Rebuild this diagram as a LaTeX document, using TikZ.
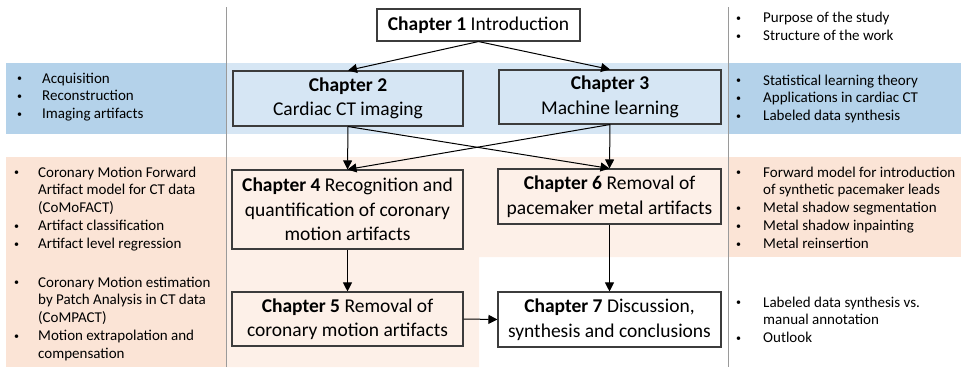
\documentclass[tikz,border=0pt]{standalone}
\usepackage{fontspec}
\setmainfont{Carlito}
\usetikzlibrary{arrows.meta}

\definecolor{bandblue}{HTML}{B4D2EA}
\definecolor{bandbluelt}{HTML}{D6E6F4}
\definecolor{bandpeach}{HTML}{FBE4D6}
\definecolor{bandpeachlt}{HTML}{FDF0E8}
\definecolor{boxline}{HTML}{3C3C3C}
\definecolor{divider}{HTML}{9A9A9A}

% bullet list: #1 = width of the bullet column, #2 = rows
\newcommand\sidelist[2]{\begin{tabular}{@{}p{#1}@{}l@{}}#2\end{tabular}}
\newcommand\itm{\raisebox{1.2pt}{\fontsize{10}{10}\selectfont\textbullet} &}

\tikzset{
  chapbox/.style={draw=boxline, line width=1.1pt, align=center, inner sep=0pt,
    font=\fontsize{19.5}{24.5}\selectfont},
  sidetext/.style={anchor=north west, inner sep=0pt,
    font=\fontsize{15}{17.8}\selectfont},
  arr/.style={-{Triangle[length=9pt,width=9pt]}, line width=1pt, black},
  divline/.style={draw=divider, line width=1pt}
}

\begin{document}
\begin{tikzpicture}[x=1pt,y=-1pt]
\useasboundingbox (0,0) rectangle (961,367);

% colour bands
\fill[bandblue]   (6,63) rectangle (226,134);
\fill[bandbluelt] (226,63) rectangle (728,134);
\fill[bandblue]   (728,63) rectangle (961,134);
\fill[bandpeach]  (6,157) rectangle (226,367);
\fill[bandpeachlt] (226,157) -- (728,157) -- (728,257) -- (479,257) -- (479,367) -- (226,367) -- cycle;
\fill[bandpeach]  (728,157) rectangle (961,257);

% column dividers
\draw[divline] (226,7) -- (226,367);
\draw[divline] (728,7) -- (728,367);

% chapter boxes
\node[chapbox, fill=white, minimum width=203pt, minimum height=32pt] (c1) at (478.5,25)
  {\textbf{Chapter 1} Introduction};
\node[chapbox, fill=bandbluelt, minimum width=230pt, minimum height=55pt] (c2) at (348,98.5)
  {\textbf{Chapter 2}\\Cardiac CT imaging};
\node[chapbox, fill=bandbluelt, minimum width=222pt, minimum height=54pt] (c3) at (610,97)
  {\textbf{Chapter 3}\\Machine learning};
\node[chapbox, fill=bandpeachlt, minimum width=231pt, minimum height=79pt] (c4) at (347.5,209.5)
  {\textbf{Chapter 4} Recognition and\\quantification of coronary\\motion artifacts};
\node[chapbox, fill=bandpeachlt, minimum width=231pt, minimum height=54pt] (c5) at (347.5,319)
  {\textbf{Chapter 5} Removal of\\coronary motion artifacts};
\node[chapbox, fill=bandpeachlt, minimum width=223pt, minimum height=55pt] (c6) at (609.5,196.5)
  {\textbf{Chapter 6} Removal of\\pacemaker metal artifacts};
\node[chapbox, fill=white, minimum width=223pt, minimum height=55pt] (c7) at (609.5,319.5)
  {\textbf{Chapter 7} Discussion,\\synthesis and conclusions};

% connectors
\draw[arr] (c1.south) -- (c2.north);
\draw[arr] (c1.south) -- (c3.north);
\draw[arr] (c2.south) -- (c4.north);
\draw[arr] (c2.south) -- (c6.north);
\draw[arr] (c3.south) -- (c4.north);
\draw[arr] (c3.south) -- (c6.north);
\draw[arr] (c4.south) -- (c5.north);
\draw[arr] (c6.south) -- (c7.north);
\draw[arr] (c5.east) -- (c7.west);

% side notes, left column
\node[sidetext] (lblue) at (17,70.5) {\sidelist{25pt}{%
  \itm Acquisition\\
  \itm Reconstruction\\
  \itm Imaging artifacts}};
\node[sidetext] (lpeach1) at (14,164.5) {\sidelist{24pt}{%
  \itm Coronary Motion Forward\\
  & Artifact model for CT data\\
  & (CoMoFACT)\\
  \itm Artifact classification\\
  \itm Artifact level regression}};
\node[sidetext] (lpeach2) at (14,274.5) {\sidelist{24pt}{%
  \itm Coronary Motion estimation\\
  & by Patch Analysis in CT data\\
  & (CoMPACT)\\
  \itm Motion extrapolation and\\
  & compensation}};

% side notes, right column
\node[sidetext] (rtop) at (736,10) {\sidelist{27pt}{%
  \itm Purpose of the study\\
  \itm Structure of the work}};
\node[sidetext] (rblue) at (736,72.5) {\sidelist{27pt}{%
  \itm Statistical learning theory\\
  \itm Applications in cardiac CT\\
  \itm Labeled data synthesis}};
\node[sidetext] (rpeach) at (736,164.5) {\sidelist{27pt}{%
  \itm Forward model for introduction\\
  & of synthetic pacemaker leads\\
  \itm Metal shadow segmentation\\
  \itm Metal shadow inpainting\\
  \itm Metal reinsertion}};
\node[sidetext] (rbottom) at (736,294.5) {\sidelist{27pt}{%
  \itm Labeled data synthesis vs.\\
  & manual annotation\\
  \itm Outlook}};
\end{tikzpicture}
\end{document}
